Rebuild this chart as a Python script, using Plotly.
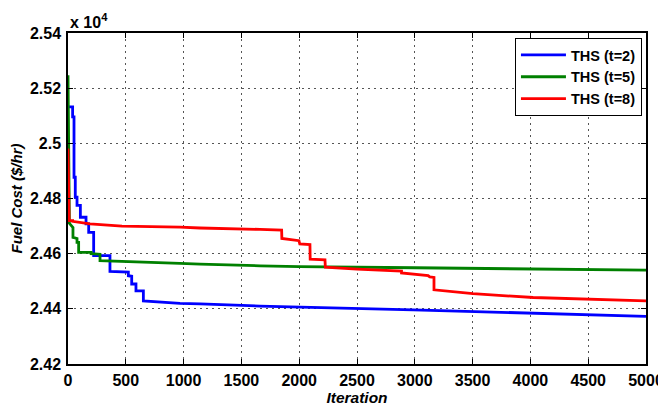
import plotly.graph_objects as go

# THS (t=2)
iter_t2 = [0, 40, 40, 52, 52, 63, 63, 78, 78, 107, 107, 156, 156, 179, 179, 222, 222,
           363, 363, 522, 522, 551, 551, 588, 588, 652, 652, 969, 1142, 1661, 2985, 5000]
cost_t2 = [25132, 25132, 25096, 25096, 24877, 24877, 24805, 24805, 24775, 24775, 24732,
           24732, 24708, 24708, 24677, 24677, 24593, 24593, 24536, 24533, 24520, 24518,
           24490, 24490, 24465, 24465, 24429, 24420, 24418, 24410, 24396, 24373]

# THS (t=5)
iter_t5 = [0, 12, 43, 43, 78, 78, 92, 92, 200, 200, 277, 277, 969, 1142, 1661, 2000,
           3000, 3800, 5000]
cost_t5 = [25247, 24710, 24695, 24659, 24655, 24641, 24641, 24605, 24605, 24600, 24598,
           24575, 24565, 24562, 24556, 24553, 24549, 24545, 24540]

# THS (t=8)
iter_t8 = [0, 10, 40, 40, 190, 467, 969, 1142, 1661, 1848, 1850, 1998, 2005, 2093, 2095,
           2223, 2226, 2500, 2885, 2885, 3116, 3130, 3166, 3166, 3503, 4024, 5000]
cost_t8 = [24981, 24720, 24720, 24717, 24708, 24700, 24696, 24693, 24688, 24685, 24655,
           24647, 24635, 24633, 24580, 24578, 24551, 24544, 24537, 24530, 24520, 24516,
           24514, 24469, 24455, 24441, 24429]

x_ticks = list(range(0, 5001, 500))
y_ticks = [24200, 24400, 24600, 24800, 25000, 25200, 25400]
y_tick_labels = ["2.42", "2.44", "2.46", "2.48", "2.5", "2.52", "2.54"]

series = [
    ("THS (t=2)", iter_t2, cost_t2, "#0000FF"),
    ("THS (t=5)", iter_t5, cost_t5, "#008000"),
    ("THS (t=8)", iter_t8, cost_t8, "#FF0000"),
]

FONT = "Liberation Sans, Arial, sans-serif"

fig = go.Figure()
for name, xs, ys, col in series:
    fig.add_trace(go.Scatter(x=xs, y=ys, mode="lines", name=name,
                             line=dict(color=col, width=2.8)))

axis_common = dict(
    showgrid=True, griddash="2px,4px", gridcolor="#555555", gridwidth=1,
    ticks="inside", ticklen=5, tickcolor="black", tickwidth=1,
    showline=True, linecolor="black", linewidth=1.5, mirror="allticks",
    zeroline=False, automargin=False,
    tickfont=dict(family=FONT, size=16, color="black", weight="bold"),
)

fig.update_layout(
    width=666, height=410,
    margin=dict(l=60, r=28, t=25, b=54),
    paper_bgcolor="white", plot_bgcolor="white",
    xaxis=dict(range=[0, 5000], tickvals=x_ticks, ticklabelstandoff=1,
               title=dict(text="Iteration", standoff=4,
                          font=dict(family=FONT, size=15.5, color="black",
                                    weight="bold", style="italic")),
               **axis_common),
    yaxis=dict(range=[24200, 25400], tickvals=y_ticks, ticktext=y_tick_labels,
               ticklabelstandoff=2,
               title=dict(text="Fuel Cost ($/hr)", standoff=7,
                          font=dict(family=FONT, size=15, color="black",
                                    weight="bold", style="italic")),
               **axis_common),
    legend=dict(x=0.993, xanchor="right", y=0.985, yanchor="top",
                bgcolor="white", bordercolor="black", borderwidth=1,
                itemwidth=45,
                font=dict(family=FONT, size=14.5, color="black", weight="bold")),
    showlegend=True,
)

fig.add_annotation(xref="paper", yref="paper", x=0, y=1, xanchor="left",
                   yanchor="bottom", yshift=0, showarrow=False,
                   text="x 10<sup>4</sup>",
                   font=dict(family=FONT, size=16, color="black", weight="bold"))

fig.write_html("out.html")
